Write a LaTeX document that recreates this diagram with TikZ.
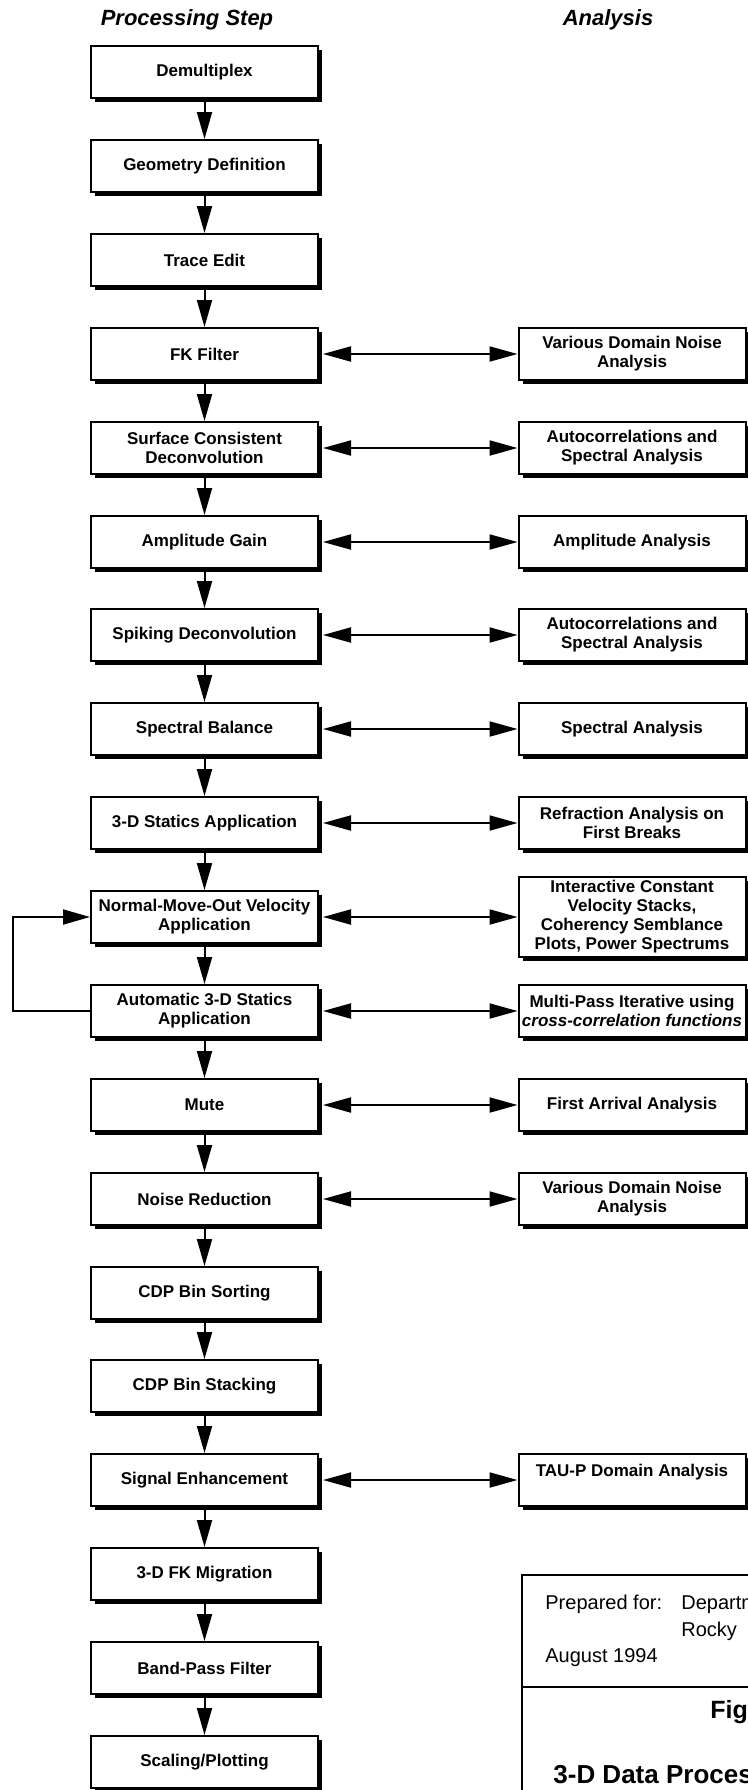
\documentclass[tikz,border=0pt]{standalone}
\usepackage{fontspec}
\setmainfont{Liberation Sans}
\usepackage{tikz}
\usetikzlibrary{arrows.meta,shadows}

\begin{document}
\begin{tikzpicture}[x=0.5pt,y=-0.5pt,
  stepbox/.style={draw, line width=1pt, fill=white, minimum width=113.5pt,
    minimum height=26pt, align=center, inner sep=1pt,
    font=\fontsize{8.5}{9.5}\selectfont\bfseries,
    drop shadow={shadow xshift=2pt, shadow yshift=-2pt, fill=black, opacity=1}},
  flow/.style={-{Triangle[length=13.5pt,width=7.5pt]}, line width=1pt},
  link/.style={{Triangle[length=14pt,width=7.5pt]}-{Triangle[length=14pt,width=7.5pt]},
    line width=1pt, shorten <=2pt},
  head/.style={font=\fontsize{11}{13}\selectfont\bfseries\itshape},
  plain/.style={anchor=base west, inner sep=0pt, font=\fontsize{10}{12}\selectfont},
  big/.style={anchor=base west, inner sep=0pt, font=\fontsize{12.5}{14}\selectfont\bfseries}]
   \useasboundingbox (0,0) rectangle (748,1790);
   \node[head] (hstep) at (187,20) {Processing Step};
   \node[head] (hana) at (608,20) {Analysis};

   \node[stepbox] (demux) at (204.5,72) {Demultiplex};
   \node[stepbox] (geom) at (204.5,166) {Geometry Definition};
   \node[stepbox] (trace) at (204.5,260) {Trace Edit};
   \node[stepbox] (fk) at (204.5,354) {FK Filter};
   \node[stepbox] (surf) at (204.5,448) {Surface Consistent\\Deconvolution};
   \node[stepbox] (gain) at (204.5,542) {Amplitude Gain};
   \node[stepbox] (spike) at (204.5,635) {Spiking Deconvolution};
   \node[stepbox] (bal) at (204.5,729) {Spectral Balance};
   \node[stepbox] (stat) at (204.5,823) {3-D Statics Application};
   \node[stepbox] (nmo) at (204.5,917) {Normal-Move-Out Velocity\\Application};
   \node[stepbox] (auto) at (204.5,1011) {Automatic 3-D Statics\\Application};
   \node[stepbox] (mute) at (204.5,1105) {Mute};
   \node[stepbox] (noise) at (204.5,1199) {Noise Reduction};
   \node[stepbox] (sort) at (204.5,1293) {CDP Bin Sorting};
   \node[stepbox] (stack) at (204.5,1386) {CDP Bin Stacking};
   \node[stepbox] (enh) at (204.5,1480) {Signal Enhancement};
   \node[stepbox] (mig) at (204.5,1574) {3-D FK Migration};
   \node[stepbox] (band) at (204.5,1668) {Band-Pass Filter};
   \node[stepbox] (scal) at (204.5,1762) {Scaling/Plotting};

   \node[stepbox] (afk) at (632,354) {Various Domain Noise\\Analysis};
   \node[stepbox] (asurf) at (632,448) {Autocorrelations and\\Spectral Analysis};
   \node[stepbox] (again) at (632,542) {Amplitude Analysis};
   \node[stepbox] (aspike) at (632,635) {Autocorrelations and\\Spectral Analysis};
   \node[stepbox] (abal) at (632,729) {Spectral Analysis};
   \node[stepbox] (astat) at (632,823) {Refraction Analysis on\\First Breaks};
   \node[stepbox, minimum height=40pt] (anmo) at (632,917) {Interactive Constant\\Velocity Stacks,\\Coherency Semblance\\Plots, Power Spectrums};
   \node[stepbox] (aauto) at (632,1011) {Multi-Pass Iterative using\\\textit{cross-correlation functions}};
   \node[stepbox] (amute) at (632,1105) {First Arrival Analysis};
   \node[stepbox] (anoise) at (632,1199) {Various Domain Noise\\Analysis};
   \node[stepbox] (aenh) at (632,1480) {TAU-P Domain Analysis\\\mbox{}};

   \foreach \a/\b in {demux/geom,geom/trace,trace/fk,fk/surf,surf/gain,gain/spike,
       spike/bal,bal/stat,stat/nmo,nmo/auto,auto/mute,mute/noise,noise/sort,
       sort/stack,stack/enh,enh/mig,mig/band,band/scal}
     \draw[flow] (\a) -- (\b);
   \foreach \a in {fk,surf,gain,spike,bal,stat,nmo,auto,mute,noise,enh}
     \draw[link] (\a) -- (a\a);
   \draw[flow] (auto.west) -- ++(-77,0) |- (nmo.west);

   \draw[line width=0.75pt] (522,1575) rectangle (770,1810);
   \draw[line width=0.75pt] (522,1687) -- (770,1687);
   \node[plain] (prep) at (545,1609) {Prepared for:};
   \node[plain] (dept) at (681,1609) {Departm};
   \node[plain] (rocky) at (681,1636) {Rocky};
   \node[plain] (date) at (545,1662) {August 1994};
   \node[big] (fig) at (710,1718) {Fig};
   \node[big, font=\fontsize{13}{15}\selectfont\bfseries] (title) at (553,1783) {3-D Data Proces};
\end{tikzpicture}
\end{document}
